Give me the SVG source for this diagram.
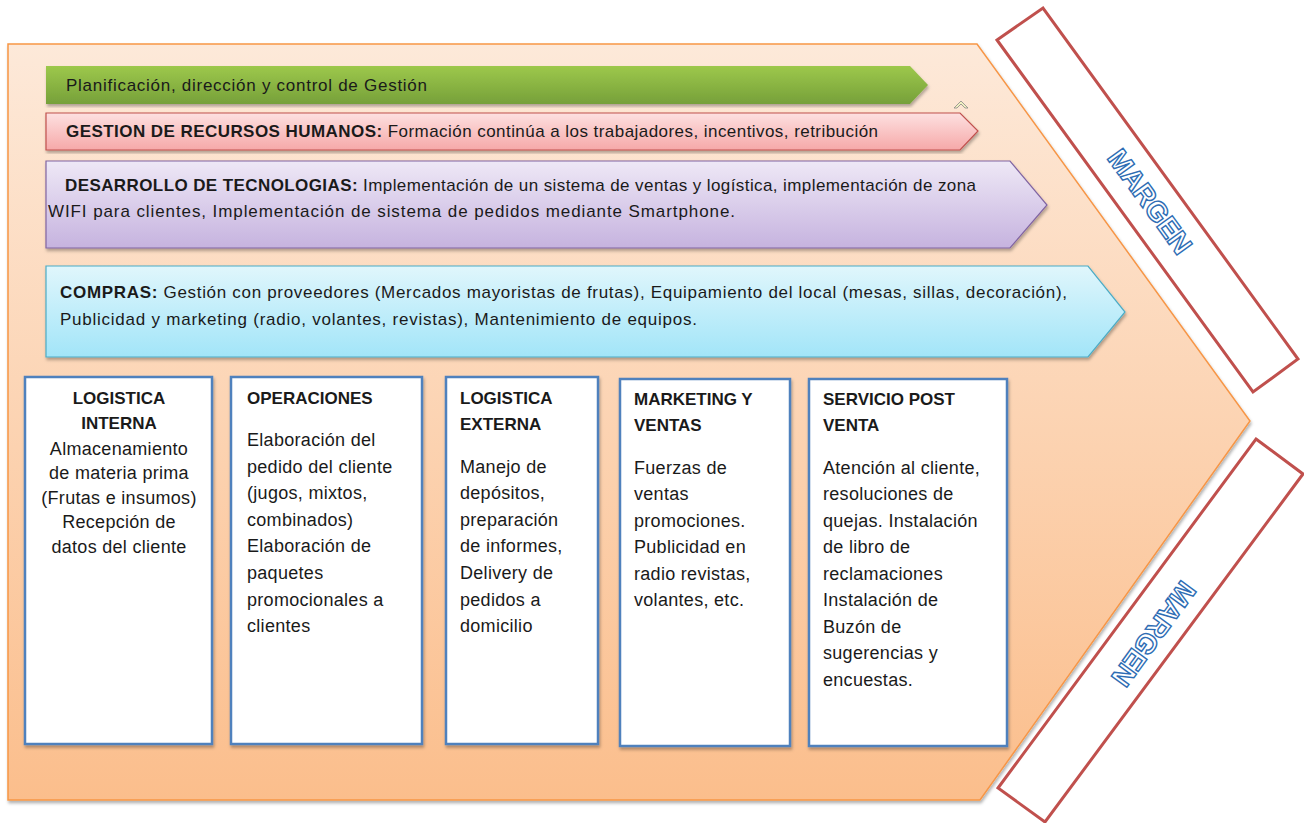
<svg xmlns="http://www.w3.org/2000/svg" width="1304" height="823" viewBox="0 0 1304 823">
<defs>
<linearGradient id="gBody" x1="0" y1="0" x2="0" y2="1"><stop offset="0" stop-color="#fde9d9"/><stop offset="1" stop-color="#fbbe8c"/></linearGradient>
<linearGradient id="gGreen" x1="0" y1="0" x2="0" y2="1"><stop offset="0" stop-color="#9dc84b"/><stop offset="1" stop-color="#76a03a"/></linearGradient>
<linearGradient id="gRed" x1="0" y1="0" x2="0" y2="1"><stop offset="0" stop-color="#fde0e0"/><stop offset="1" stop-color="#f6a9a9"/></linearGradient>
<linearGradient id="gPurple" x1="0" y1="0" x2="0" y2="1"><stop offset="0" stop-color="#eee8f6"/><stop offset="1" stop-color="#c6b3df"/></linearGradient>
<linearGradient id="gCyan" x1="0" y1="0" x2="0" y2="1"><stop offset="0" stop-color="#e0f6fc"/><stop offset="1" stop-color="#a2e5f8"/></linearGradient>
<filter id="sh" x="-5%" y="-5%" width="110%" height="115%"><feDropShadow dx="1" dy="2.5" stdDeviation="1.5" flood-color="#000" flood-opacity="0.3"/></filter>
<style>
text{font-family:"Liberation Sans",Arial,sans-serif;fill:#1a1a1a}
.bar{font-size:17px}
.box{fill:#fff;stroke:#4f81bd;stroke-width:2.5;filter:url(#sh)}
.t{font-size:17px;font-weight:bold}
.b{font-size:18px;letter-spacing:0.3px}
.margin{fill:#fff;stroke:#c0504d;stroke-width:3}
.mg{font-size:28px;font-weight:bold;fill:#fff;stroke:#2e6db4;stroke-width:1.4;letter-spacing:-0.5px}
</style>
</defs>

<g id="body">
<polygon points="8,44 977,44 1250,421 980,800 8,800" fill="url(#gBody)" stroke="#f79646" stroke-width="1.5" filter="url(#sh)"/>
</g>

<g id="margen-top">
<polygon class="margin" points="997,40 1043,8 1298,359 1253,392"/>
<text class="mg" text-anchor="middle" transform="translate(1142,207) rotate(54)">MARGEN</text>
</g>
<g id="margen-bottom">
<polygon class="margin" points="1256,439 1303,474 1045,822 998,788"/>
<text class="mg" text-anchor="middle" transform="translate(1146,628) rotate(126)">MARGEN</text>
</g>

<g id="planificacion">
<polygon points="46,66 910,66 928,85 910,104 46,104" fill="url(#gGreen)" filter="url(#sh)"/>
<text class="bar" x="66" y="91" textLength="361" lengthAdjust="spacing">Planificación, dirección y control de Gestión</text>
</g>
<g id="toggle">
<polygon points="954,108 961,101 968,108 965,108 961,104 957,108" fill="#f0f0c0" stroke="#888" stroke-width="0.8"/>
</g>

<g id="rrhh">
<polygon points="46,113 960,113 978,131 960,150 46,150" fill="url(#gRed)" stroke="#c0504d" stroke-width="1.2" filter="url(#sh)"/>
<text class="bar" x="66" y="137" textLength="812" lengthAdjust="spacing"><tspan font-weight="bold">GESTION DE RECURSOS HUMANOS:</tspan> Formación continúa a los trabajadores, incentivos, retribución</text>
</g>

<g id="tecnologias">
<polygon points="46,161 1010,161 1047,205 1010,248 46,248" fill="url(#gPurple)" stroke="#8064a2" stroke-width="1.2" filter="url(#sh)"/>
<text class="bar" x="65" y="191" textLength="911" lengthAdjust="spacing"><tspan font-weight="bold">DESARROLLO DE TECNOLOGIAS:</tspan> Implementación de un sistema de ventas y logística, implementación de zona</text>
<text class="bar" x="48" y="217" textLength="687" lengthAdjust="spacing">WIFI para clientes, Implementación de sistema de pedidos mediante Smartphone.</text>
</g>

<g id="compras">
<polygon points="46,266 1088,266 1125,312 1088,357 46,357" fill="url(#gCyan)" stroke="#4bacc6" stroke-width="1.2" filter="url(#sh)"/>
<text class="bar" x="60" y="298" textLength="1007" lengthAdjust="spacing"><tspan font-weight="bold">COMPRAS:</tspan> Gestión con proveedores  (Mercados mayoristas de frutas), Equipamiento del local (mesas, sillas, decoración),</text>
<text class="bar" x="60" y="325" textLength="637" lengthAdjust="spacing">Publicidad y marketing (radio, volantes, revistas), Mantenimiento de equipos.</text>
</g>

<g id="logistica-interna">
<rect class="box" x="25" y="377" width="187" height="367"/>
<text class="t" x="119" y="404" text-anchor="middle">LOGISTICA</text>
<text class="t" x="119" y="429" text-anchor="middle">INTERNA</text>
<text class="b" text-anchor="middle" x="119" y="455">Almacenamiento</text>
<text class="b" text-anchor="middle" x="119" y="479">de materia prima</text>
<text class="b" text-anchor="middle" x="119" y="504">(Frutas e insumos)</text>
<text class="b" text-anchor="middle" x="119" y="528">Recepción de</text>
<text class="b" text-anchor="middle" x="119" y="553">datos del cliente</text>
</g>

<g id="operaciones">
<rect class="box" x="231" y="377" width="191" height="367"/>
<text class="t" x="247" y="404">OPERACIONES</text>
<text class="b" x="247" y="446">Elaboración del</text>
<text class="b" x="247" y="473">pedido del cliente</text>
<text class="b" x="247" y="499">(jugos, mixtos,</text>
<text class="b" x="247" y="526">combinados)</text>
<text class="b" x="247" y="552">Elaboración de</text>
<text class="b" x="247" y="579">paquetes</text>
<text class="b" x="247" y="606">promocionales a</text>
<text class="b" x="247" y="632">clientes</text>
</g>

<g id="logistica-externa">
<rect class="box" x="446" y="377" width="152" height="367"/>
<text class="t" x="460" y="404">LOGISTICA</text>
<text class="t" x="460" y="430">EXTERNA</text>
<text class="b" x="460" y="473">Manejo de</text>
<text class="b" x="460" y="499">depósitos,</text>
<text class="b" x="460" y="526">preparación</text>
<text class="b" x="460" y="552">de informes,</text>
<text class="b" x="460" y="579">Delivery de</text>
<text class="b" x="460" y="606">pedidos a</text>
<text class="b" x="460" y="632">domicilio</text>
</g>

<g id="marketing">
<rect class="box" x="620" y="379" width="170" height="367"/>
<text class="t" x="634" y="405">MARKETING Y</text>
<text class="t" x="634" y="431">VENTAS</text>
<text class="b" x="634" y="474">Fuerzas de</text>
<text class="b" x="634" y="500">ventas</text>
<text class="b" x="634" y="527">promociones.</text>
<text class="b" x="634" y="553">Publicidad en</text>
<text class="b" x="634" y="580">radio revistas,</text>
<text class="b" x="634" y="606">volantes, etc.</text>
</g>

<g id="postventa">
<rect class="box" x="809" y="379" width="198" height="367"/>
<text class="t" x="823" y="405">SERVICIO POST</text>
<text class="t" x="823" y="431">VENTA</text>
<text class="b" x="823" y="474">Atención al cliente,</text>
<text class="b" x="823" y="500">resoluciones de</text>
<text class="b" x="823" y="527">quejas. Instalación</text>
<text class="b" x="823" y="553">de libro de</text>
<text class="b" x="823" y="580">reclamaciones</text>
<text class="b" x="823" y="606">Instalación de</text>
<text class="b" x="823" y="633">Buzón de</text>
<text class="b" x="823" y="659">sugerencias y</text>
<text class="b" x="823" y="686">encuestas.</text>
</g>

<g id="connectors"></g>
</svg>
